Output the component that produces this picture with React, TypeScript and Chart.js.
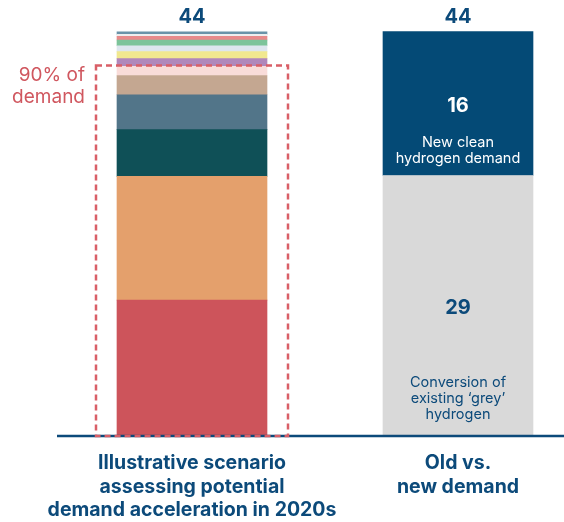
import React, { useEffect, useRef } from "react";
import { Chart, registerables } from "chart.js";

Chart.register(...registerables);

// ---------- data ----------
const CATEGORY_LABELS = [
  ["Illustrative scenario", "assessing potential", "demand acceleration in 2020s"],
  ["Old vs.", "new demand"],
];

// Left bar: segments from bottom to top
const SCENARIO_VALUES = [14.7, 13.5, 5.1, 3.8, 2.1, 1.0, 0.84, 0.76, 0.65, 0.62, 0.39, 0.22, 0.29];
const SCENARIO_COLORS = [
  "#cd545b", "#e4a06c", "#0f5057", "#527589", "#c4a791", "#f9dcd9", "#b087bb",
  "#f1e88f", "#dde6ee", "#7cc49a", "#e88a8a", "#eeeeee", "#6a93a8",
];

// Right bar: existing grey conversion (bottom), new clean demand (top)
const SPLIT_VALUES = [28.3, 15.7];
const SPLIT_COLORS = ["#d9d9d9", "#044a76"];
const SPLIT_NUMBERS = ["29", "16"];
const SPLIT_TEXT = [
  ["Conversion of", "existing \u2018grey\u2019", "hydrogen"],
  ["New clean", "hydrogen demand"],
];
const SPLIT_TEXT_COLORS = ["#0c4a7a", "#ffffff"];

const TOTAL_LABELS = ["44", "44"];
const Y_MAX = 44;
const HIGHLIGHT_TOP = 40.3;
const HIGHLIGHT_TEXT = ["90% of", "demand"];

// ---------- styling ----------
const DARK = "#0c4a7a";
const RED_TEXT = "#d0575f";
const RED_DASH = "#d95f67";
const FONT = "Inter";

const annotate = {
  id: "annotate",
  afterDatasetsDraw(chart: any) {
    const ctx = chart.ctx;
    const xs = chart.scales.x;
    const ys = chart.scales.y;
    const y0 = ys.getPixelForValue(0);
    ctx.save();

    // baseline
    ctx.strokeStyle = DARK;
    ctx.lineWidth = 2.5;
    ctx.beginPath();
    ctx.moveTo(57, y0 + 1);
    ctx.lineTo(chart.width, y0 + 1);
    ctx.stroke();

    // dashed highlight box around left bar
    const lx = xs.getPixelForValue(0);
    const top = ys.getPixelForValue(HIGHLIGHT_TOP);
    ctx.setLineDash([6, 4]);
    ctx.strokeStyle = RED_DASH;
    ctx.lineWidth = 2.5;
    ctx.strokeRect(lx - 96, top, 192, y0 + 1 - top);
    ctx.setLineDash([]);

    // highlight text
    ctx.fillStyle = RED_TEXT;
    ctx.font = `19px ${FONT}`;
    ctx.textAlign = "right";
    ctx.textBaseline = "alphabetic";
    ctx.fillText(HIGHLIGHT_TEXT[0], 85, top + 15.7);
    ctx.fillText(HIGHLIGHT_TEXT[1], 85, top + 37.7);

    // totals
    const leftTotal = SCENARIO_VALUES.reduce((a, b) => a + b, 0);
    const rightTotal = SPLIT_VALUES.reduce((a, b) => a + b, 0);
    const totals = [leftTotal, rightTotal];
    ctx.fillStyle = DARK;
    ctx.font = `bold 20px ${FONT}`;
    ctx.textAlign = "center";
    totals.forEach((t, i) => {
      const px = xs.getPixelForValue(i);
      ctx.fillText(TOTAL_LABELS[i], px, ys.getPixelForValue(t) - 9);
    });

    // right bar segment labels
    const rx = xs.getPixelForValue(1);
    let base = 0;
    SPLIT_VALUES.forEach((v, i) => {
      const mid = ys.getPixelForValue(base + v / 2);
      base += v;
      ctx.fillStyle = SPLIT_TEXT_COLORS[i];
      ctx.font = `bold 20px ${FONT}`;
      ctx.fillText(SPLIT_NUMBERS[i], rx, mid + 8.5);
      ctx.font = `14.5px ${FONT}`;
      const start = i === 0 ? 81.5 : 43.3;
      SPLIT_TEXT[i].forEach((line, j) => {
        ctx.fillText(line, rx, mid + start + j * 16.3);
      });
    });

    // category labels under the baseline
    ctx.fillStyle = DARK;
    ctx.font = `bold 19.5px ${FONT}`;
    CATEGORY_LABELS.forEach((lines, i) => {
      const cx = xs.getPixelForValue(i);
      lines.forEach((line, j) => {
        ctx.fillText(line, cx, y0 + 34 + j * 23.5);
      });
    });

    ctx.restore();
  },
};

export default function App() {
  const canvasRef = useRef<HTMLCanvasElement | null>(null);

  useEffect(() => {
    let chart: Chart | null = null;
    let cancelled = false;
    const fonts = [`bold 20px ${FONT}`, `20px ${FONT}`, `14.5px ${FONT}`];
    const fontsReady = (document as any).fonts
      ? Promise.all(fonts.map((f) => (document as any).fonts.load(f))).catch(() => null)
      : Promise.resolve(null);

    fontsReady.then(() => {
      if (cancelled || !canvasRef.current) return;
      const datasets: any[] = [];
      SCENARIO_VALUES.forEach((v, i) => {
        datasets.push({
          data: [v, null],
          backgroundColor: SCENARIO_COLORS[i],
          stack: "s",
        });
      });
      SPLIT_VALUES.forEach((v, i) => {
        datasets.push({
          data: [null, v],
          backgroundColor: SPLIT_COLORS[i],
          stack: "s",
        });
      });
      datasets.forEach((d) => {
        d.borderWidth = 0;
        d.barThickness = 150;
        d.clip = false;
      });

      chart = new Chart(canvasRef.current, {
        type: "bar",
        data: { labels: CATEGORY_LABELS.map((l) => l.join(" ")), datasets },
        options: {
          responsive: false,
          animation: false,
          events: [],
          layout: { padding: { left: 192, right: 106, top: 31.5, bottom: 87 } },
          plugins: { legend: { display: false }, tooltip: { enabled: false } },
          scales: {
            x: {
              stacked: true,
              offset: false,
              display: false,
            },
            y: {
              stacked: true,
              display: false,
              min: 0,
              max: Y_MAX,
            },
          },
        },
        plugins: [annotate],
      });
    });

    return () => {
      cancelled = true;
      if (chart) chart.destroy();
    };
  }, []);

  return (
    <div style={{ position: "absolute", left: 0, top: 0, width: 564, height: 522, background: "#fff" }}>
      <canvas ref={canvasRef} width={564} height={522} style={{ display: "block" }} />
    </div>
  );
}
